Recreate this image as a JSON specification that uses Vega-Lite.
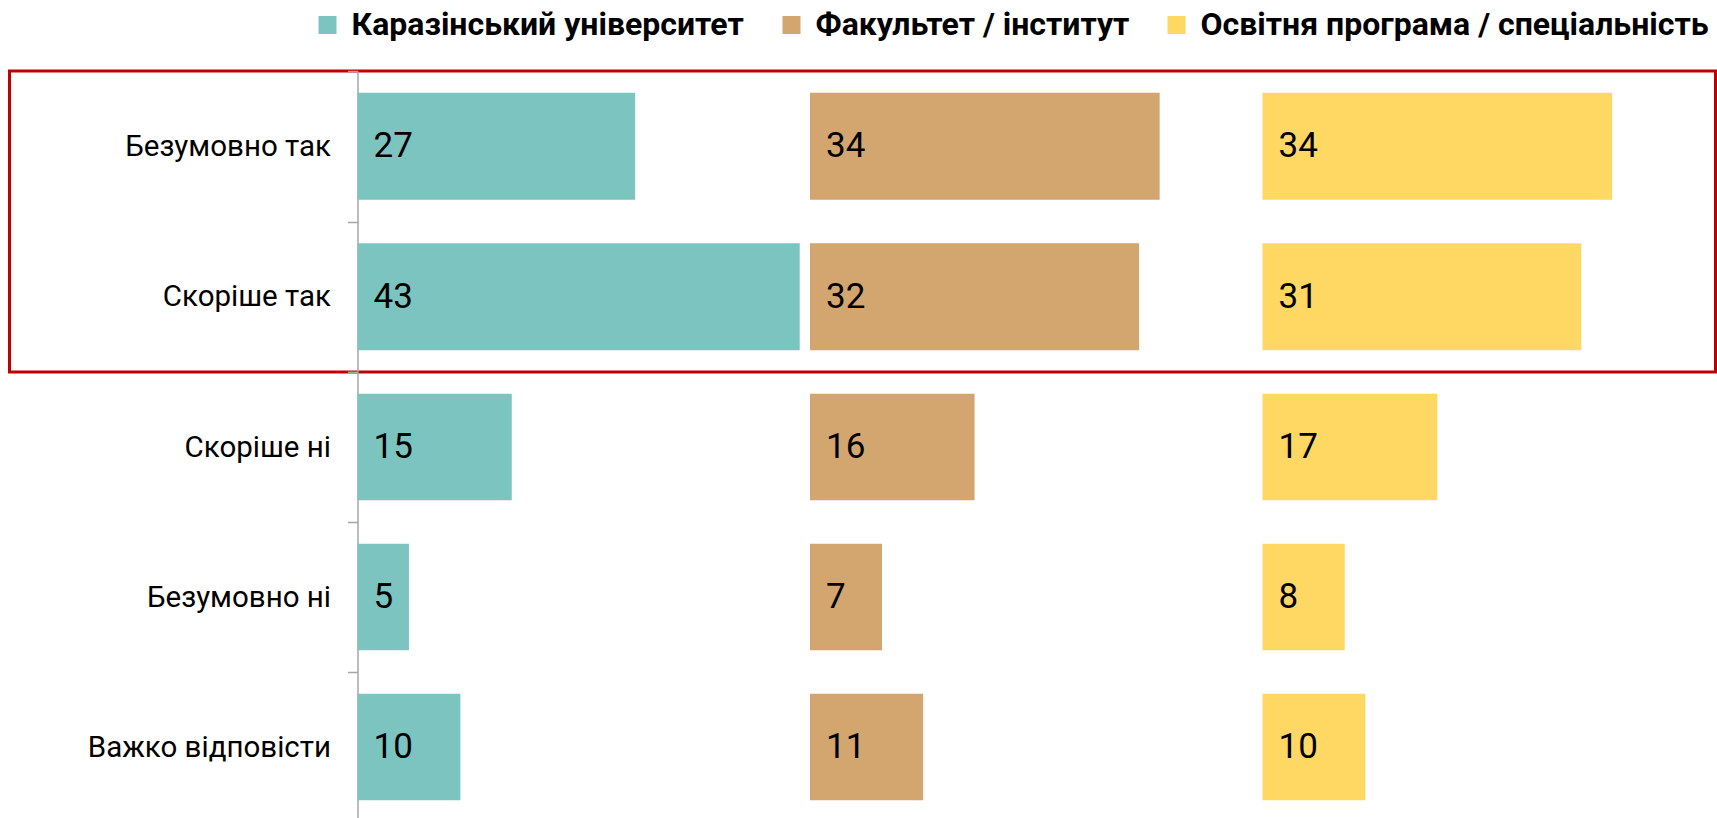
{
  "$schema": "https://vega.github.io/schema/vega-lite/v6.json",
  "background": "white",
  "padding": {"left": 7.5, "top": 9, "right": 0, "bottom": 0},
  "bounds": "flush",
  "datasets": {
    "survey": [
      {"category": "Безумовно так", "group": "Каразінський університет", "value": 27},
      {"category": "Скоріше так", "group": "Каразінський університет", "value": 43},
      {"category": "Скоріше ні", "group": "Каразінський університет", "value": 15},
      {"category": "Безумовно ні", "group": "Каразінський університет", "value": 5},
      {"category": "Важко відповісти", "group": "Каразінський університет", "value": 10},
      {"category": "Безумовно так", "group": "Факультет / інститут", "value": 34},
      {"category": "Скоріше так", "group": "Факультет / інститут", "value": 32},
      {"category": "Скоріше ні", "group": "Факультет / інститут", "value": 16},
      {"category": "Безумовно ні", "group": "Факультет / інститут", "value": 7},
      {"category": "Важко відповісти", "group": "Факультет / інститут", "value": 11},
      {"category": "Безумовно так", "group": "Освітня програма / спеціальність", "value": 34},
      {"category": "Скоріше так", "group": "Освітня програма / спеціальність", "value": 31},
      {"category": "Скоріше ні", "group": "Освітня програма / спеціальність", "value": 17},
      {"category": "Безумовно ні", "group": "Освітня програма / спеціальність", "value": 8},
      {"category": "Важко відповісти", "group": "Освітня програма / спеціальність", "value": 10}
    ]
  },
  "spacing": 0,
  "resolve": {"scale": {"x": "independent", "y": "independent"}},
  "vconcat": [
    {
      "data": {"name": "survey"},
      "transform": [{"filter": {"field": "category", "oneOf": ["Безумовно так", "Скоріше так"]}}],
      "width": 1706,
      "height": 301,
      "view": {"stroke": "#C00000", "strokeWidth": 3},
      "encoding": {
        "y": {"field": "category", "type": "nominal", "title": null,
          "scale": {"domain": ["Безумовно так", "Скоріше так"], "paddingInner": 0, "paddingOuter": 0},
          "axis": {"title": null, "offset": -348, "tickBand": "extent", "tickSize": 10, "tickColor": "#A6A6A6", "tickWidth": 1.5, "domainColor": "#A6A6A6", "domainWidth": 1.5, "labelFont": "Roboto", "labelFontSize": 29.5, "labelColor": "#000000", "labelPadding": 17, "labelLimit": 400, "grid": false}},
        "color": {"field": "group", "type": "nominal",
          "scale": {"domain": ["Каразінський університет", "Факультет / інститут", "Освітня програма / спеціальність"], "range": ["#7CC4BF", "#D3A56F", "#FFD863"]},
          "legend": {"title": null, "orient": "none", "legendX": 302, "legendY": -62, "padding": 0, "offset": 0, "symbolOffset": 0, "direction": "horizontal", "symbolType": "square", "symbolSize": 324, "symbolStrokeWidth": 0, "labelFont": "Roboto", "labelFontWeight": "bold", "labelFontSize": 32, "labelColor": "#000000", "labelOffset": 8, "labelLimit": 700, "columnPadding": 31}}
      },
      "resolve": {"scale": {"x": "independent"}},
      "layer": [
        {
          "transform": [{"filter": {"field": "group", "equal": "Каразінський університет"}}],
          "layer": [
            {"mark": {"type": "bar", "height": {"band": 0.71}}, "encoding": {"x": {"field": "value", "type": "quantitative", "scale": {"domain": [-33.84, 132.05], "nice": false, "zero": false}, "axis": null}, "x2": {"datum": 0}}},
            {"mark": {"type": "text", "align": "left", "baseline": "middle", "dx": 16, "font": "Roboto", "fontSize": 35}, "encoding": {"x": {"datum": 0, "type": "quantitative", "scale": {"domain": [-33.84, 132.05], "nice": false, "zero": false}, "axis": null}, "text": {"field": "value", "type": "quantitative"}, "color": {"value": "#000000"}}}
          ]
        },
        {
          "transform": [{"filter": {"field": "group", "equal": "Факультет / інститут"}}],
          "layer": [
            {"mark": {"type": "bar", "height": {"band": 0.71}}, "encoding": {"x": {"field": "value", "type": "quantitative", "scale": {"domain": [-77.84, 88.05], "nice": false, "zero": false}, "axis": null}, "x2": {"datum": 0}}},
            {"mark": {"type": "text", "align": "left", "baseline": "middle", "dx": 16, "font": "Roboto", "fontSize": 35}, "encoding": {"x": {"datum": 0, "type": "quantitative", "scale": {"domain": [-77.84, 88.05], "nice": false, "zero": false}, "axis": null}, "text": {"field": "value", "type": "quantitative"}, "color": {"value": "#000000"}}}
          ]
        },
        {
          "transform": [{"filter": {"field": "group", "equal": "Освітня програма / спеціальність"}}],
          "layer": [
            {"mark": {"type": "bar", "height": {"band": 0.71}}, "encoding": {"x": {"field": "value", "type": "quantitative", "scale": {"domain": [-121.84, 44.05], "nice": false, "zero": false}, "axis": null}, "x2": {"datum": 0}}},
            {"mark": {"type": "text", "align": "left", "baseline": "middle", "dx": 16, "font": "Roboto", "fontSize": 35}, "encoding": {"x": {"datum": 0, "type": "quantitative", "scale": {"domain": [-121.84, 44.05], "nice": false, "zero": false}, "axis": null}, "text": {"field": "value", "type": "quantitative"}, "color": {"value": "#000000"}}}
          ]
        }
      ]
    },
    {
      "data": {"name": "survey"},
      "transform": [{"filter": {"field": "category", "oneOf": ["Скоріше ні", "Безумовно ні", "Важко відповісти"]}}],
      "width": 1706,
      "height": 450,
      "encoding": {
        "y": {"field": "category", "type": "nominal", "title": null,
          "scale": {"domain": ["Скоріше ні", "Безумовно ні", "Важко відповісти"], "paddingInner": 0, "paddingOuter": 0},
          "axis": {"title": null, "offset": -348, "tickBand": "extent", "tickSize": 10, "tickColor": "#A6A6A6", "tickWidth": 1.5, "domainColor": "#A6A6A6", "domainWidth": 1.5, "labelFont": "Roboto", "labelFontSize": 29.5, "labelColor": "#000000", "labelPadding": 17, "labelLimit": 400, "grid": false}},
        "color": {"field": "group", "type": "nominal",
          "scale": {"domain": ["Каразінський університет", "Факультет / інститут", "Освітня програма / спеціальність"], "range": ["#7CC4BF", "#D3A56F", "#FFD863"]},
          "legend": {"title": null, "orient": "none", "legendX": 302, "legendY": -62, "padding": 0, "offset": 0, "symbolOffset": 0, "direction": "horizontal", "symbolType": "square", "symbolSize": 324, "symbolStrokeWidth": 0, "labelFont": "Roboto", "labelFontWeight": "bold", "labelFontSize": 32, "labelColor": "#000000", "labelOffset": 8, "labelLimit": 700, "columnPadding": 31}}
      },
      "resolve": {"scale": {"x": "independent"}},
      "layer": [
        {
          "transform": [{"filter": {"field": "group", "equal": "Каразінський університет"}}],
          "layer": [
            {"mark": {"type": "bar", "height": {"band": 0.71}}, "encoding": {"x": {"field": "value", "type": "quantitative", "scale": {"domain": [-33.84, 132.05], "nice": false, "zero": false}, "axis": null}, "x2": {"datum": 0}}},
            {"mark": {"type": "text", "align": "left", "baseline": "middle", "dx": 16, "font": "Roboto", "fontSize": 35}, "encoding": {"x": {"datum": 0, "type": "quantitative", "scale": {"domain": [-33.84, 132.05], "nice": false, "zero": false}, "axis": null}, "text": {"field": "value", "type": "quantitative"}, "color": {"value": "#000000"}}}
          ]
        },
        {
          "transform": [{"filter": {"field": "group", "equal": "Факультет / інститут"}}],
          "layer": [
            {"mark": {"type": "bar", "height": {"band": 0.71}}, "encoding": {"x": {"field": "value", "type": "quantitative", "scale": {"domain": [-77.84, 88.05], "nice": false, "zero": false}, "axis": null}, "x2": {"datum": 0}}},
            {"mark": {"type": "text", "align": "left", "baseline": "middle", "dx": 16, "font": "Roboto", "fontSize": 35}, "encoding": {"x": {"datum": 0, "type": "quantitative", "scale": {"domain": [-77.84, 88.05], "nice": false, "zero": false}, "axis": null}, "text": {"field": "value", "type": "quantitative"}, "color": {"value": "#000000"}}}
          ]
        },
        {
          "transform": [{"filter": {"field": "group", "equal": "Освітня програма / спеціальність"}}],
          "layer": [
            {"mark": {"type": "bar", "height": {"band": 0.71}}, "encoding": {"x": {"field": "value", "type": "quantitative", "scale": {"domain": [-121.84, 44.05], "nice": false, "zero": false}, "axis": null}, "x2": {"datum": 0}}},
            {"mark": {"type": "text", "align": "left", "baseline": "middle", "dx": 16, "font": "Roboto", "fontSize": 35}, "encoding": {"x": {"datum": 0, "type": "quantitative", "scale": {"domain": [-121.84, 44.05], "nice": false, "zero": false}, "axis": null}, "text": {"field": "value", "type": "quantitative"}, "color": {"value": "#000000"}}}
          ]
        }
      ]
    }
  ],
  "config": {
    "view": {"stroke": null},
    "font": "Roboto"
  }
}
